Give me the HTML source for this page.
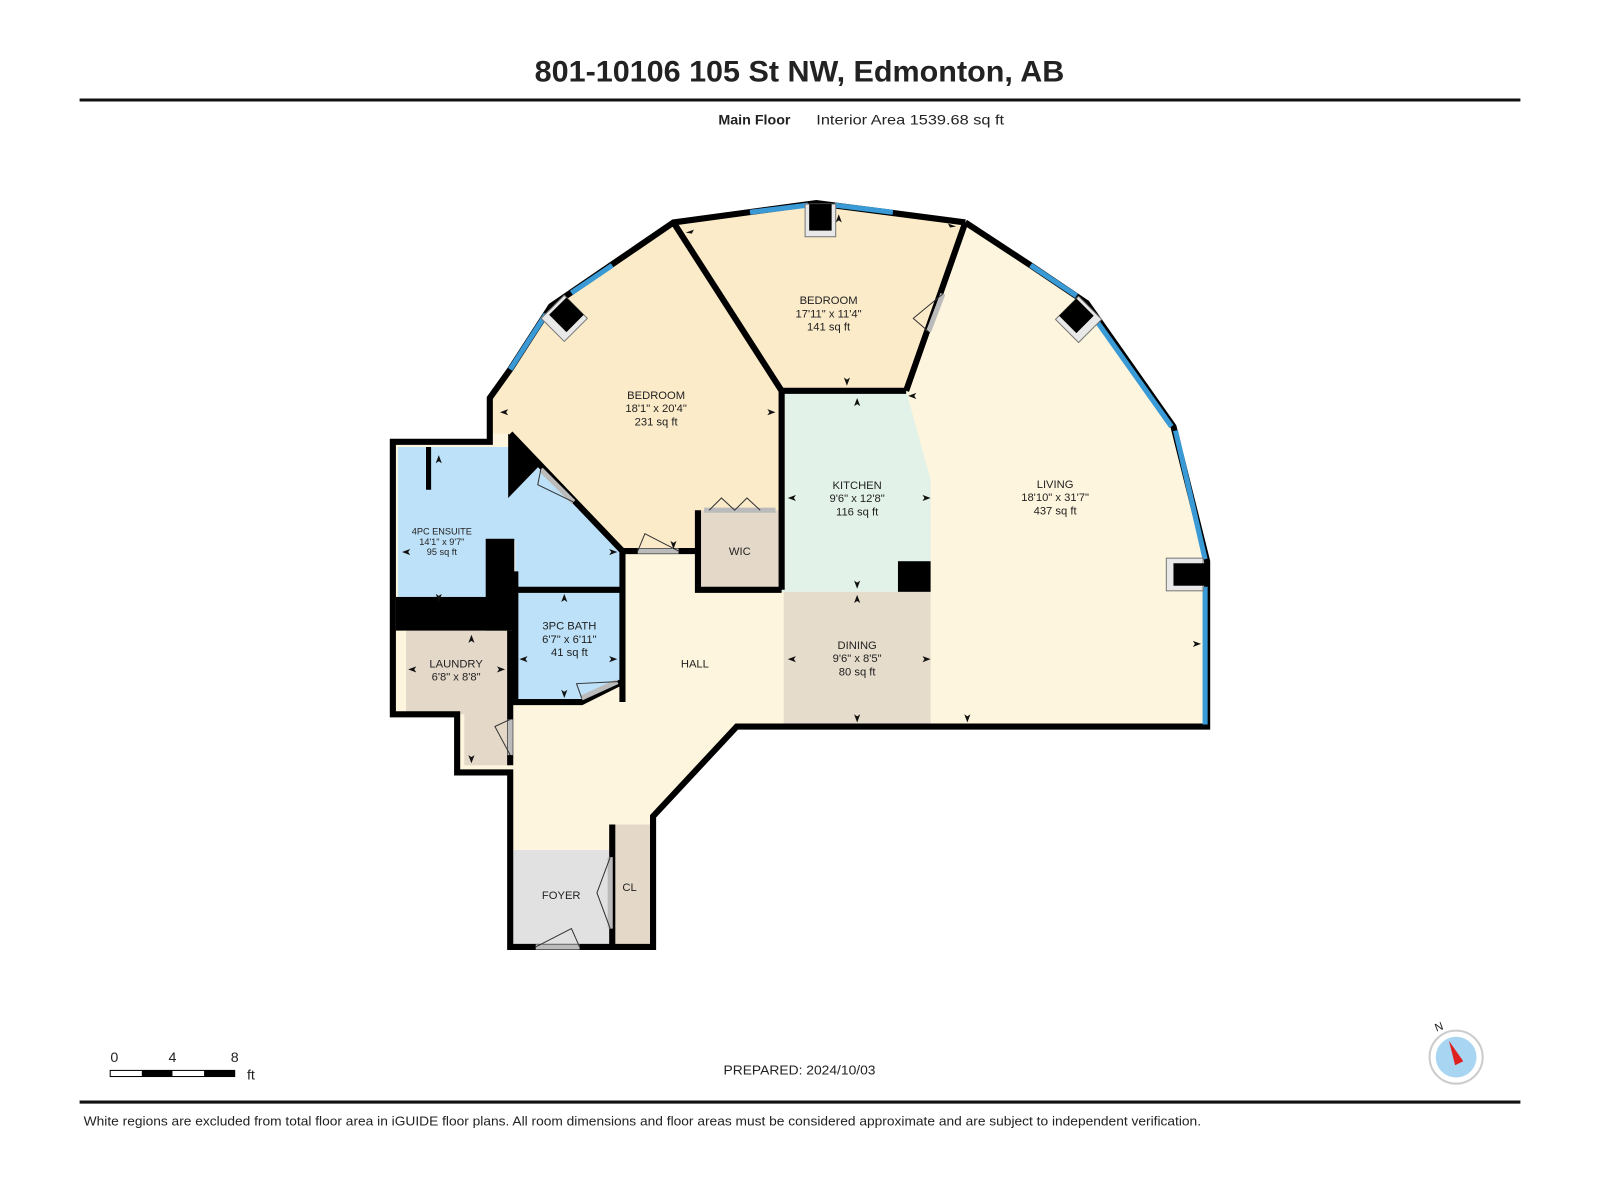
<!DOCTYPE html>
<html><head><meta charset="utf-8"><style>
html,body{margin:0;padding:0;background:#fff;}
svg{display:block;}
text{font-family:"Liberation Sans",Arial,sans-serif;fill:#222;}
</style></head><body>
<svg width="1600" height="1200" viewBox="0 0 1568 1176" preserveAspectRatio="none" xmlns="http://www.w3.org/2000/svg">
<text x="524" y="80" font-size="29" font-weight="bold" textLength="519" lengthAdjust="spacingAndGlyphs" fill="#111">801-10106 105 St NW, Edmonton, AB</text>
<line x1="78" y1="98" x2="1490" y2="98" stroke="#111" stroke-width="3"/>
<text x="704" y="122" font-size="14" font-weight="bold">Main Floor</text>
<text x="800" y="122" font-size="14" textLength="184" lengthAdjust="spacingAndGlyphs">Interior Area 1539.68 sq ft</text>

<polygon points="660,218 800,199 946,218 1010,260 1065,297 1150,418 1183,550 1183,712 722,712 640,800 640,928 500,928 500,757 448,757 448,700 385,700 385,433 480,433 480,390 500,362 540,300" fill="#fdf5dd"/>
<polygon points="660,218 766,383 766,500 684,500 684,540 610,540 500,425 480,425 480,390 500,362 540,300" fill="#fbebc9"/>
<polygon points="660,218 800,199 946,218 888,383 766,383" fill="#fbebc9"/>
<polygon points="766,383 888,383 912,470 912,580 766,580" fill="#e3f2e9"/>
<rect x="768" y="580" width="144" height="130" fill="#e6dccb"/>
<rect x="684" y="500" width="82" height="78" fill="#e4d9c9"/>
<polygon points="390,438 498,438 500,425 610,540 610,578 505,578 505,530 478,530 478,585 390,585" fill="#bde1f8"/>
<polygon points="505,578 610,578 610,670 570,688 505,688" fill="#bde1f8"/>
<polygon points="398,618 500,618 500,750 455,750 455,700 398,700" fill="#e4d9c9"/>
<rect x="503" y="833" width="95" height="95" fill="#e1e1e1"/>
<rect x="600" y="808" width="37" height="120" fill="#e4d9c9"/>

<g fill="none" stroke="#000" stroke-width="6" stroke-linejoin="miter">
<polyline points="946,218 1010,260 1065,297 1150,418 1183,550 1183,712 722,712 640,800 640,928 500,928 500,757 448,757 448,700 385,700 385,433 480,433 480,390 500,362 540,300 660,218 800,199 946,218"/>
<line x1="660" y1="218" x2="766" y2="383"/>
<line x1="946" y1="218" x2="888" y2="383"/>
<line x1="766" y1="383" x2="888" y2="383"/>
<line x1="766" y1="383" x2="766" y2="578"/>
<polyline points="684,500 684,578 766,578"/>
<polyline points="500,425 610,540 684,540"/>
<line x1="610" y1="540" x2="610" y2="688"/>
<polyline points="505,578 610,578"/>
<polyline points="505,560 505,688 570,688 610,668"/>
<line x1="500" y1="618" x2="500" y2="750"/>
<line x1="600" y1="808" x2="600" y2="928"/>
<line x1="420" y1="438" x2="420" y2="480" stroke-width="5"/>
</g>
<polygon points="498,425 530,455 498,488" fill="#000"/>
<rect x="476" y="528" width="28" height="90" fill="#000"/>
<rect x="388" y="585" width="116" height="33" fill="#000"/>
<rect x="880" y="550" width="32" height="30" fill="#000"/>

<g stroke="#3a9ad6" stroke-width="5" fill="none">
<line x1="735" y1="208" x2="792" y2="201"/>
<line x1="818" y1="201" x2="875" y2="208"/>
<line x1="500" y1="362" x2="535" y2="308"/>
<line x1="560" y1="287" x2="600" y2="260"/>
<line x1="1010" y1="260" x2="1055" y2="290"/>
<line x1="1075" y1="315" x2="1148" y2="418"/>
<line x1="1152" y1="422" x2="1181" y2="548"/>
<line x1="1181" y1="575" x2="1181" y2="710"/>
</g>

<rect x="789" y="200" width="30" height="32" fill="#e8e8e8" stroke="#777"/>
<rect x="793" y="200" width="22" height="26" fill="#000"/>
<g transform="translate(553,312) rotate(45)"><rect x="-16" y="-16" width="32" height="32" fill="#e8e8e8" stroke="#777"/><rect x="-13" y="-16" width="24" height="24" fill="#000"/></g>
<g transform="translate(1057,313) rotate(45)"><rect x="-16" y="-16" width="32" height="32" fill="#e8e8e8" stroke="#777"/><rect x="-16" y="-13" width="24" height="24" fill="#000"/></g>
<rect x="1143" y="547" width="36" height="32" fill="#e8e8e8" stroke="#777"/>
<rect x="1150" y="552" width="34" height="22" fill="#000"/>

<g stroke="#bbb" stroke-width="5">
<line x1="530" y1="460" x2="562" y2="492"/>
<line x1="625" y1="540" x2="665" y2="540"/>
<line x1="570" y1="684" x2="605" y2="668"/>
<line x1="500" y1="705" x2="500" y2="740"/>
<line x1="598" y1="840" x2="598" y2="910"/>
<line x1="525" y1="928" x2="568" y2="928"/>
<line x1="924" y1="288" x2="910" y2="325"/>
<line x1="690" y1="500" x2="760" y2="500"/>
</g>
<g stroke="#333" stroke-width="1" fill="none">
<polyline points="530,460 527,475 562,492"/>
<polyline points="625,540 632,523 665,540"/>
<polyline points="570,684 565,670 605,668"/>
<polyline points="500,705 485,712 500,740"/>
<polyline points="598,840 585,875 598,910"/>
<polyline points="525,928 560,910 568,928"/>
<polyline points="924,288 895,312 910,325"/>
<polyline points="695,500 707,488 720,500 732,488 745,500"/>
</g>

<g fill="#111">
<path d="M672,228 l8,-3 l-2,4 z"/><path d="M937,222 l-8,-3 l2,4 z"/>
<path d="M822,210 l-3,8 l3,-2 l3,2 z"/>
<path d="M830,378 l-3,-8 l3,2 l3,-2 z"/><path d="M840,390 l-3,8 l3,-2 l3,2 z"/>
<path d="M490,404 l8,-3 l-2,3 l2,3 z"/><path d="M760,404 l-8,-3 l2,3 l-2,3 z"/>
<path d="M772,488 l8,-3 l-2,3 l2,3 z"/><path d="M912,488 l-8,-3 l2,3 l-2,3 z"/>
<path d="M840,577 l-3,-8 l3,2 l3,-2 z"/><path d="M840,583 l-3,8 l3,-2 l3,2 z"/>
<path d="M772,646 l8,-3 l-2,3 l2,3 z"/><path d="M912,646 l-8,-3 l2,3 l-2,3 z"/>
<path d="M840,708 l-3,-8 l3,2 l3,-2 z"/><path d="M948,708 l-3,-8 l3,2 l3,-2 z"/>
<path d="M1177,631 l-8,-3 l2,3 l-2,3 z"/>
<path d="M890,388 l8,-3 l-2,3 l2,3 z"/>
<path d="M430,590 l-3,-8 l3,2 l3,-2 z"/><path d="M430,588 l0,0 z"/>
<path d="M430,446 l-3,8 l3,-2 l3,2 z"/>
<path d="M394,541 l8,-3 l-2,3 l2,3 z"/><path d="M605,541 l-8,-3 l2,3 l-2,3 z"/>
<path d="M553,582 l-3,8 l3,-2 l3,2 z"/><path d="M553,684 l-3,-8 l3,2 l3,-2 z"/>
<path d="M509,646 l8,-3 l-2,3 l2,3 z"/><path d="M605,646 l-8,-3 l2,3 l-2,3 z"/>
<path d="M462,622 l-3,8 l3,-2 l3,2 z"/><path d="M462,748 l-3,-8 l3,2 l3,-2 z"/>
<path d="M400,656 l8,-3 l-2,3 l2,3 z"/><path d="M495,656 l-8,-3 l2,3 l-2,3 z"/>
<path d="M660,538 l-3,-8 l3,2 l3,-2 z"/>
</g>

<g font-size="11" text-anchor="middle">
<text x="812" y="298">BEDROOM</text><text x="812" y="311">17'11" x 11'4"</text><text x="812" y="324">141 sq ft</text>
<text x="643" y="391">BEDROOM</text><text x="643" y="404">18'1" x 20'4"</text><text x="643" y="417">231 sq ft</text>
<text x="840" y="479">KITCHEN</text><text x="840" y="492">9'6" x 12'8"</text><text x="840" y="505">116 sq ft</text>
<text x="1034" y="478">LIVING</text><text x="1034" y="491">18'10" x 31'7"</text><text x="1034" y="504">437 sq ft</text>
<text x="725" y="544">WIC</text>
<text x="840" y="636">DINING</text><text x="840" y="649">9'6" x 8'5"</text><text x="840" y="662">80 sq ft</text>
<text x="681" y="654">HALL</text>
<text x="558" y="617">3PC BATH</text><text x="558" y="630">6'7" x 6'11"</text><text x="558" y="643">41 sq ft</text>
<text x="447" y="654">LAUNDRY</text><text x="447" y="667">6'8" x 8'8"</text>
<text x="550" y="881">FOYER</text>
<text x="617" y="873">CL</text>
</g>
<g font-size="9" text-anchor="middle">
<text x="433" y="524">4PC ENSUITE</text><text x="433" y="534">14'1" x 9'7"</text><text x="433" y="544">95 sq ft</text>
</g>

<g font-size="14">
<text x="112" y="1041" text-anchor="middle">0</text><text x="169" y="1041" text-anchor="middle">4</text><text x="230" y="1041" text-anchor="middle">8</text>
<text x="242" y="1058">ft</text>
</g>
<rect x="108" y="1049" width="122" height="6" fill="#fff" stroke="#000" stroke-width="1"/>
<rect x="139" y="1049" width="30" height="6" fill="#000"/>
<rect x="200" y="1049" width="30" height="6" fill="#000"/>
<text x="709" y="1053" font-size="13" textLength="149" lengthAdjust="spacingAndGlyphs">PREPARED: 2024/10/03</text>
<circle cx="1427" cy="1036" r="26" fill="#fff" stroke="#ccc" stroke-width="2"/>
<circle cx="1427" cy="1036" r="20" fill="#a8d6f2"/>
<polygon points="1420,1020 1434,1040 1426,1044" fill="#e02020"/>
<text x="1406" y="1010" font-size="11" transform="rotate(-20 1410 1006)">N</text>
<line x1="78" y1="1080" x2="1490" y2="1080" stroke="#111" stroke-width="3"/>
<text x="82" y="1103" font-size="13" textLength="1095" lengthAdjust="spacingAndGlyphs">White regions are excluded from total floor area in iGUIDE floor plans. All room dimensions and floor areas must be considered approximate and are subject to independent verification.</text>
</svg>
</body></html>
